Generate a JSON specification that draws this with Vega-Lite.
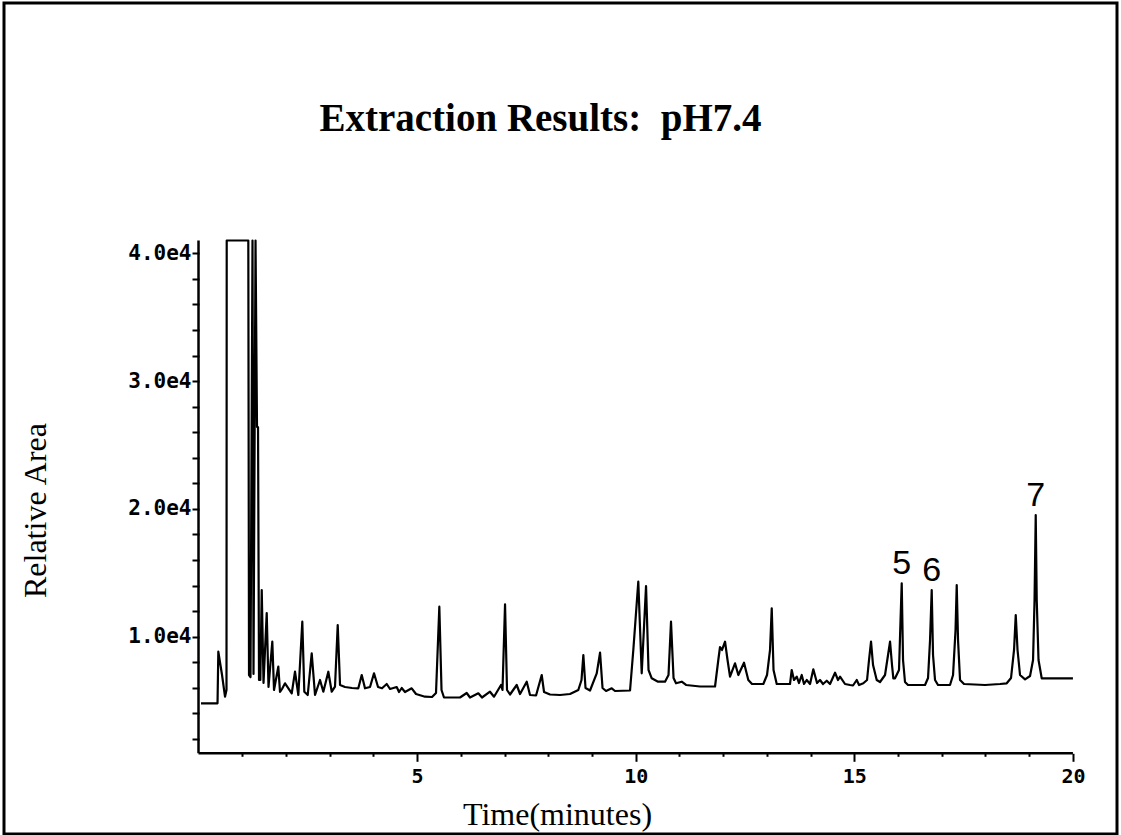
{
  "$schema": "https://vega.github.io/schema/vega-lite/v6.json",
  "width": 1113,
  "height": 831,
  "autosize": {"type": "none"},
  "padding": {"left": 4, "top": 3, "right": 4, "bottom": 1},
  "background": "white",
  "config": {
    "view": {"stroke": "black", "strokeWidth": 3},
    "font": "Liberation Serif"
  },
  "title": {
    "text": "Extraction Results: \u00a0pH7.4",
    "font": "Liberation Serif",
    "fontSize": 39,
    "fontWeight": "bold",
    "color": "black",
    "anchor": "middle",
    "frame": "group",
    "baseline": "alphabetic",
    "offset": -167,
    "dx": -20
  },
  "datasets": {
    "trace": [
      {"time":0.057,"area":4789},{"time":0.416,"area":4789},{"time":0.435,"area":4789},{"time":0.453,"area":8827},{"time":0.538,"area":7003},{"time":0.606,"area":5305},{"time":0.640,"area":5830},{"time":0.645,"area":41000},{"time":1.139,"area":41000},{"time":1.155,"area":7003},{"time":1.189,"area":6847},{"time":1.235,"area":41000},{"time":1.258,"area":7080},{"time":1.304,"area":41000},{"time":1.338,"area":26409},{"time":1.361,"area":26409},{"time":1.384,"area":6612},{"time":1.414,"area":6612},{"time":1.446,"area":13655},{"time":1.487,"area":6377},{"time":1.560,"area":11855},{"time":1.601,"area":6064},{"time":1.688,"area":9609},{"time":1.727,"area":5830},{"time":1.825,"area":7653},{"time":1.864,"area":5673},{"time":1.910,"area":5908},{"time":1.979,"area":6354},{"time":2.132,"area":5571},{"time":2.207,"area":7262},{"time":2.283,"area":5438},{"time":2.374,"area":11174},{"time":2.420,"area":5697},{"time":2.498,"area":5438},{"time":2.589,"area":8701},{"time":2.665,"area":5438},{"time":2.779,"area":6612},{"time":2.855,"area":5697},{"time":2.969,"area":7262},{"time":3.047,"area":5697},{"time":3.122,"area":6100},{"time":3.184,"area":10916},{"time":3.237,"area":6221},{"time":3.351,"area":6064},{"time":3.511,"area":5986},{"time":3.655,"area":5963},{"time":3.733,"area":7003},{"time":3.808,"area":5963},{"time":3.923,"area":6064},{"time":4.014,"area":7136},{"time":4.106,"area":6064},{"time":4.197,"area":5963},{"time":4.305,"area":6299},{"time":4.380,"area":5908},{"time":4.533,"area":6064},{"time":4.586,"area":5673},{"time":4.648,"area":5986},{"time":4.723,"area":5673},{"time":4.876,"area":5963},{"time":4.975,"area":5517},{"time":5.181,"area":5305},{"time":5.341,"area":5282},{"time":5.432,"area":5595},{"time":5.508,"area":12348},{"time":5.558,"area":5830},{"time":5.615,"area":5243},{"time":5.981,"area":5243},{"time":6.134,"area":5595},{"time":6.210,"area":5243},{"time":6.400,"area":5571},{"time":6.484,"area":5243},{"time":6.667,"area":5697},{"time":6.759,"area":5305},{"time":6.919,"area":6221},{"time":6.953,"area":5830},{"time":7.011,"area":12536},{"time":7.056,"area":5830},{"time":7.125,"area":5478},{"time":7.278,"area":6221},{"time":7.354,"area":5517},{"time":7.507,"area":6479},{"time":7.582,"area":5438},{"time":7.720,"area":5399},{"time":7.850,"area":7003},{"time":7.903,"area":5673},{"time":8.040,"area":5478},{"time":8.269,"area":5438},{"time":8.497,"area":5517},{"time":8.687,"area":5830},{"time":8.760,"area":6612},{"time":8.802,"area":8568},{"time":8.852,"area":5986},{"time":8.955,"area":5791},{"time":9.108,"area":7136},{"time":9.184,"area":8748},{"time":9.241,"area":5986},{"time":9.321,"area":5751},{"time":9.451,"area":5963},{"time":9.527,"area":5751},{"time":9.870,"area":5791},{"time":9.945,"area":8960},{"time":10.059,"area":14304},{"time":10.137,"area":7136},{"time":10.236,"area":13968},{"time":10.293,"area":7395},{"time":10.366,"area":6745},{"time":10.510,"area":6479},{"time":10.670,"area":6479},{"time":10.750,"area":7003},{"time":10.807,"area":11174},{"time":10.865,"area":6769},{"time":10.922,"area":6354},{"time":11.052,"area":6479},{"time":11.151,"area":6221},{"time":11.471,"area":6104},{"time":11.814,"area":6104},{"time":11.889,"area":8177},{"time":11.928,"area":9194},{"time":11.974,"area":8960},{"time":12.043,"area":9609},{"time":12.100,"area":8177},{"time":12.157,"area":6870},{"time":12.271,"area":7919},{"time":12.347,"area":7003},{"time":12.477,"area":7966},{"time":12.575,"area":6612},{"time":12.660,"area":6299},{"time":12.919,"area":6299},{"time":13.003,"area":7003},{"time":13.072,"area":8960},{"time":13.111,"area":12223},{"time":13.152,"area":7395},{"time":13.225,"area":6299},{"time":13.529,"area":6299},{"time":13.568,"area":7395},{"time":13.620,"area":6612},{"time":13.683,"area":6870},{"time":13.735,"area":6377},{"time":13.797,"area":7003},{"time":13.849,"area":6299},{"time":13.911,"area":6612},{"time":13.987,"area":6299},{"time":14.062,"area":7449},{"time":14.147,"area":6377},{"time":14.215,"area":6612},{"time":14.284,"area":6299},{"time":14.369,"area":6557},{"time":14.444,"area":6299},{"time":14.559,"area":7183},{"time":14.627,"area":6612},{"time":14.673,"area":6870},{"time":14.787,"area":6299},{"time":14.902,"area":6221},{"time":14.970,"area":6182},{"time":15.055,"area":6612},{"time":15.108,"area":6221},{"time":15.206,"area":6354},{"time":15.291,"area":6612},{"time":15.336,"area":8177},{"time":15.382,"area":9609},{"time":15.428,"area":7786},{"time":15.512,"area":6612},{"time":15.588,"area":6456},{"time":15.702,"area":7003},{"time":15.771,"area":8568},{"time":15.817,"area":9609},{"time":15.862,"area":7786},{"time":15.892,"area":6745},{"time":15.931,"area":6745},{"time":16.022,"area":7395},{"time":16.057,"area":11307},{"time":16.084,"area":14179},{"time":16.114,"area":8177},{"time":16.159,"area":6456},{"time":16.228,"area":6221},{"time":16.617,"area":6221},{"time":16.686,"area":6769},{"time":16.732,"area":9742},{"time":16.770,"area":13655},{"time":16.800,"area":8568},{"time":16.846,"area":6612},{"time":16.914,"area":6221},{"time":17.189,"area":6221},{"time":17.258,"area":7003},{"time":17.315,"area":10525},{"time":17.342,"area":14046},{"time":17.372,"area":9742},{"time":17.418,"area":6612},{"time":17.509,"area":6299},{"time":17.990,"area":6221},{"time":18.333,"area":6299},{"time":18.486,"area":6354},{"time":18.584,"area":6769},{"time":18.653,"area":8960},{"time":18.692,"area":11698},{"time":18.733,"area":8960},{"time":18.790,"area":7003},{"time":18.905,"area":6667},{"time":19.019,"area":6925},{"time":19.088,"area":8177},{"time":19.122,"area":12872},{"time":19.149,"area":19523},{"time":19.172,"area":12872},{"time":19.213,"area":8177},{"time":19.286,"area":6745},{"time":20.0,"area":6745}
    ],
    "peaks": [
      {"time":16.084,"area":14179,"label":"5"},
      {"time":16.77,"area":13655,"label":"6"},
      {"time":19.149,"area":19523,"label":"7"}
    ]
  },
  "layer": [
    {
      "data": {"name": "trace"},
      "mark": {"type": "line", "color": "black", "strokeWidth": 2.2, "strokeJoin": "round", "interpolate": "linear"},
      "encoding": {
        "x": {
          "field": "time", "type": "quantitative",
          "scale": {"domain": [-4.449, 21.008], "nice": false, "zero": false},
          "axis": {
            "orient": "bottom",
            "offset": -80.7,
            "values": [1,2,3,4,5,6,7,8,9,10,11,12,13,14,15,16,17,18,19,20],
            "domain": false,
            "grid": false,
            "tickColor": "black",
            "tickWidth": 2,
            "tickSize": {"condition": {"test": "datum.value % 5 === 0", "value": 8}, "value": 3},
            "labelExpr": "datum.value % 5 === 0 ? datum.label : ''",
            "labelFont": "DejaVu Sans Mono",
            "labelFontSize": 20,
            "labelFontWeight": "bold",
            "labelColor": "black",
            "labelPadding": 5,
            "labelFlush": false,
            "labelOverlap": false,
            "title": "Time(minutes)",
            "titleFont": "Liberation Serif",
            "titleFontSize": 32,
            "titleFontWeight": "normal",
            "titleColor": "black",
            "titleX": 553,
            "titleY": 71,
            "titleBaseline": "alphabetic",
            "titleAlign": "center"
          }
        },
        "y": {
          "field": "area", "type": "quantitative",
          "scale": {"domain": [-5438, 59585], "nice": false, "zero": false},
          "axis": {
            "orient": "left",
            "offset": -195,
            "values": [2000,4000,6000,8000,10000,12000,14000,16000,18000,20000,22000,24000,26000,28000,30000,32000,34000,36000,38000,40000],
            "domain": false,
            "grid": false,
            "tickColor": "black",
            "tickWidth": 2,
            "tickSize": 7,
            "labelExpr": "datum.value % 10000 === 0 ? (datum.value / 10000) + '.0e4' : ''",
            "labelFont": "DejaVu Sans Mono",
            "labelFontSize": 21,
            "labelFontWeight": "bold",
            "labelColor": "black",
            "labelPadding": 1,
            "labelFlush": false,
            "labelOverlap": false,
            "title": "Relative Area",
            "titleFont": "Liberation Serif",
            "titleFontSize": 32,
            "titleFontWeight": "normal",
            "titleColor": "black",
            "titleAngle": -90,
            "titleX": -154,
            "titleY": 507,
            "titleBaseline": "alphabetic",
            "titleAlign": "center"
          }
        }
      }
    },
    {
      "data": {"values": [{}]},
      "mark": {"type": "rule", "color": "black", "strokeWidth": 2.5},
      "encoding": {
        "x": {"datum": 0, "type": "quantitative"},
        "y": {"datum": 880, "type": "quantitative"},
        "y2": {"datum": 41000}
      }
    },
    {
      "data": {"values": [{}]},
      "mark": {"type": "rule", "color": "black", "strokeWidth": 2.5},
      "encoding": {
        "x": {"datum": 0, "type": "quantitative"},
        "x2": {"datum": 20},
        "y": {"datum": 880, "type": "quantitative"}
      }
    },
    {
      "data": {"name": "peaks"},
      "mark": {"type": "text", "font": "Liberation Sans", "fontSize": 34, "color": "black", "baseline": "alphabetic", "align": "center", "dy": -9},
      "encoding": {
        "x": {"field": "time", "type": "quantitative"},
        "y": {"field": "area", "type": "quantitative"},
        "text": {"field": "label"}
      }
    }
  ]
}
